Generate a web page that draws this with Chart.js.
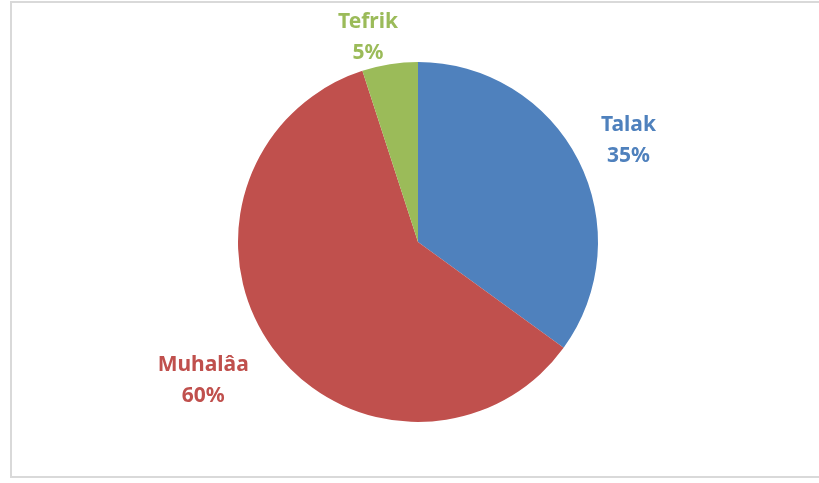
<!DOCTYPE html>
<html lang="en">
<head>
  <meta charset="UTF-8">
  <title>Pie</title>
  <script src="https://cdn.jsdelivr.net/npm/chart.js"></script>
  <style>
    html, body { margin: 0; padding: 0; background: #fff; }
    #wrap { position: relative; width: 819px; height: 483px; }
    #frame { position: absolute; left: 10px; top: 1px; width: 830px; height: 477px; border: 2px solid #d9d9d9; box-sizing: border-box; }
    canvas { position: absolute; left: 0; top: 0; }
  </style>
</head>
<body>
  <div id="wrap">
    <div id="frame"></div>
    <canvas id="pie" width="819" height="483"></canvas>
  </div>

  <script>
    const labels = ['Talak', 'Muhalâa', 'Tefrik'];
    const values = [35, 60, 5];
    const colors = ['#4f81bd', '#c0504d', '#9bbb59'];

    // label placement: distance from centre (x radius) plus a small nudge in px
    const labelDist = [1.30, 1.42, 1.17];
    const labelNudge = [[2, 4], [-8, -12], [-17, 3]];

    const outerLabels = {
      id: 'outerLabels',
      afterDatasetsDraw(chart) {
        const c = chart.ctx;
        const meta = chart.getDatasetMeta(0);
        c.save();
        c.font = 'bold 21px "Noto Sans", Lato, sans-serif';
        c.textAlign = 'center';
        c.textBaseline = 'middle';
        meta.data.forEach((arc, i) => {
          const mid = (arc.startAngle + arc.endAngle) / 2;
          const d = arc.outerRadius * labelDist[i];
          const x = arc.x + Math.cos(mid) * d + labelNudge[i][0];
          const y = arc.y + Math.sin(mid) * d + labelNudge[i][1];
          c.fillStyle = colors[i];
          c.fillText(labels[i], x, y - 15);
          c.fillText(values[i] + '%', x, y + 16);
        });
        c.restore();
      }
    };

    new Chart(document.getElementById('pie').getContext('2d'), {
      type: 'pie',
      data: {
        labels: labels,
        datasets: [{
          data: values,
          backgroundColor: colors,
          borderWidth: 0
        }]
      },
      options: {
        responsive: false,
        animation: false,
        layout: { padding: { left: 238, right: 221, top: 62, bottom: 61 } },
        plugins: {
          legend: { display: false },
          tooltip: { enabled: false }
        }
      },
      plugins: [outerLabels]
    });
  </script>
</body>
</html>
